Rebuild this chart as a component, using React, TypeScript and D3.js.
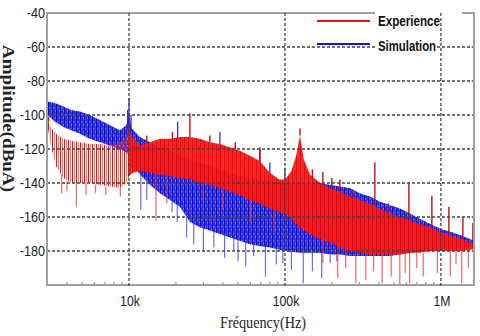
import React from 'react';
import * as d3 from 'd3';

// ---------- data ----------
const yTickValues = [-40, -60, -80, -100, -120, -140, -160, -180];
const xMajorValues = [10000, 100000, 1000000];
const xMajorLabels = ['10k', '100k', '1M'];
const xMinorValues = [4000, 5000, 6000, 7000, 8000, 9000, 20000, 30000, 40000, 50000, 60000, 70000, 80000, 90000,
  200000, 300000, 400000, 500000, 600000, 700000, 800000, 900000];

// Simulation (blue) envelope
const simFreq = [3000, 3350, 3800, 4250, 4850, 5600, 6500, 7550, 8750, 9600, 10000, 10400, 11760, 13630, 15790, 18300,
  21210, 24580, 28490, 33020, 38270, 44360, 51400, 59570, 69030, 80000, 100000, 124800, 144600, 167600, 194200,
  225000, 260800, 302200, 350600, 406300, 470900, 545700, 632400, 732800, 849200, 1000000, 1178000, 1365000, 1630000];
const simHigh = [-92, -93, -95, -97, -98, -100, -103, -106, -109, -106, -100, -108, -113, -116, -119, -121,
  -124, -126, -128, -130, -132, -134, -136, -137, -138, -139, -140, -140, -140, -140, -141,
  -142, -143, -146, -148, -151, -153, -155, -158, -161, -164, -167, -169, -171, -174];
const simLow = [-100, -104, -107, -109, -111, -114, -116, -118, -120, -122, -124, -128, -135, -141, -146, -150,
  -154, -163, -166, -168, -170, -172, -174, -176, -177, -178, -180, -181, -181, -181, -182,
  -182, -183, -183, -183, -183, -183, -182, -181, -180, -180, -179, -179, -178, -177];
// [freq, base, tip]
const simSpikes = [[10000, -104, -90], [9800, -108, -97], [10300, -110, -100], [20500, -128, -104], [28000, -135, -118],
  [38270, -140, -110], [45000, -142, -125], [69030, -150, -120], [80000, -152, -128], [100000, -156, -131],
  [115000, -160, -135], [55000, -146, -132], [16500, -125, -117]];
const simDips = [[11900, -134, -156], [13000, -138, -150], [18900, -150, -157], [20400, -152, -163], [23400, -160, -172],
  [26000, -164, -176], [30000, -166, -180], [35000, -168, -178], [41000, -170, -184], [47000, -172, -180],
  [50000, -173, -186], [56000, -175, -189], [63000, -176, -183], [75000, -177, -195], [88000, -178, -188],
  [97000, -179, -187], [110000, -180, -191], [131000, -181, -199], [150000, -181, -192], [172000, -181, -196],
  [195000, -182, -187], [215000, -182, -186]];

// Experience (red) envelope
const expFreq = [3000, 3150, 3400, 3800, 4250, 4850, 5600, 6500, 7550, 8750, 9600, 10000, 10500, 11760, 13630, 15790,
  18300, 21210, 24580, 28490, 33020, 38270, 44360, 51400, 59570, 69030, 80000, 92000, 100000, 110000, 118000, 124800,
  132000, 144600, 167600, 194200, 225000, 260800, 302200, 350600, 406300, 470900, 545700, 632400, 732800, 849200,
  1000000, 1178000, 1365000, 1630000];
const expHigh = [-103, -107, -111, -114, -115, -116, -117, -117, -118, -116, -112, -110, -113, -118, -116, -114,
  -114, -113, -113, -114, -116, -117, -119, -121, -124, -127, -134, -138, -138, -133, -124, -112,
  -126, -135, -140, -143, -145, -148, -150, -152, -155, -158, -160, -162, -164, -166,
  -169, -171, -173, -176];
const expLow = [-106, -118, -130, -137, -140, -140, -140, -141, -142, -143, -140, -136, -134, -133, -134, -135,
  -136, -137, -138, -140, -141, -143, -145, -147, -150, -152, -155, -157, -158, -161, -164, -166,
  -168, -170, -173, -175, -178, -180, -181, -182, -182, -182, -182, -181, -181, -180,
  -180, -180, -180, -179];
const expSparseUntil = 12500;
const expSpikes = [[24580, -113, -99], [69030, -127, -119], [124800, -112, -108], [175000, -141, -133.5],
  [200000, -143, -137], [225000, -145, -138], [377000, -153, -128], [623000, -162, -140], [875000, -166, -147.5],
  [1125000, -170, -154], [1383000, -173, -160], [1603000, -176, -163.5], [9900, -112, -106], [3050, -104, -101],
  [13000, -117, -112], [19000, -114, -110], [33000, -116, -112], [48000, -120, -116], [150000, -137, -132],
  [270000, -149, -144], [460000, -158, -152]];
const expDips = [[3700, -135, -146], [4000, -139, -145], [4600, -140, -154], [5300, -140, -147], [6100, -141, -146],
  [7100, -142, -147], [8800, -143, -148], [14900, -134, -162], [17500, -136, -152], [30000, -140, -150],
  [40000, -144, -156], [60000, -150, -163], [85000, -156, -169], [175000, -173, -187],
  [218000, -178, -196], [245000, -179, -190], [285000, -181, -199], [330000, -182, -197], [370000, -182, -192],
  [420000, -182, -199], [480000, -182, -195], [545000, -182, -200], [590000, -181, -193], [630000, -181, -199],
  [700000, -181, -190], [770000, -181, -195], [950000, -180, -193], [1150000, -180, -195], [1250000, -180, -188],
  [1360000, -180, -199], [1500000, -179, -190]];

const seriesNames = ['Experience', 'Simulation'];
const seriesColors = ['#ee1111', '#1515d0'];

export default function App() {
  const L = 47, R = 474, T = 13, B = 285;
  const x = d3.scaleLog().domain([2980, 1630000]).range([L, R]);
  const y = d3.scaleLinear().domain([-200, -40]).range([B, T]);

  type Row = { f: number; hi: number; lo: number };
  const area = d3.area<Row>().x(d => x(d.f)).y0(d => y(d.lo)).y1(d => y(d.hi));
  const simRows: Row[] = simFreq.map((f, i) => ({ f, hi: simHigh[i], lo: simLow[i] }));
  const expRows: Row[] = expFreq.map((f, i) => ({ f, hi: expHigh[i], lo: expLow[i] }));
  const expSparse = expRows.filter(r => r.f <= expSparseUntil);
  const expDense = expRows.filter(r => r.f >= 10000);

  const spikeLines = (arr: number[][], color: string, w: number, op: number, key: string) =>
    arr.map((s, i) => (
      <line key={key + i} x1={x(s[0])} x2={x(s[0])} y1={y(s[1])} y2={y(s[2])}
        stroke={color} strokeWidth={w} strokeOpacity={op} />
    ));

  const sans = 'Liberation Sans, Arial, sans-serif';
  const serif = 'Liberation Serif, Times New Roman, serif';

  return (
    <svg width={480} height={336} style={{ position: 'absolute', left: 0, top: 0, background: '#fff' }}>
      <defs>
        <clipPath id="plotClip"><rect x={L} y={T} width={R - L} height={B - T} /></clipPath>
        <pattern id="patBlue" width="4" height="7" patternUnits="userSpaceOnUse">
          <rect width="4" height="7" fill="#4848f2" />
          <rect x="0" width="1.3" height="7" fill="#0a0ac4" />
          <rect x="2.3" width="0.9" height="7" fill="#1818dd" />
          <rect x="1.4" y="2" width="0.8" height="1.5" fill="#9a9aff" />
          <rect x="3.2" y="5" width="0.8" height="1.5" fill="#9a9aff" />
        </pattern>
        <pattern id="patRed" width="4" height="7" patternUnits="userSpaceOnUse">
          <rect width="4" height="7" fill="#ff2424" />
          <rect x="0" width="1.2" height="7" fill="#e30000" />
          <rect x="2.4" width="0.8" height="7" fill="#ee0a0a" />
        </pattern>
        <pattern id="patRedSparse" width="4" height="7" patternUnits="userSpaceOnUse">
          <rect x="0" width="1.1" height="7" fill="#e81010" />
          <rect x="2.2" width="0.8" height="7" fill="#ee3030" fillOpacity={0.8} />
        </pattern>
      </defs>

      <g clipPath="url(#plotClip)">
        <path d={area(simRows) || ''} fill="url(#patBlue)" />
        {spikeLines(simSpikes, '#1a1ae0', 1.3, 0.9, 'ss')}
        {spikeLines(simDips, '#3a3aee', 1.2, 0.75, 'sd')}
        <path d={area(expSparse) || ''} fill="url(#patRedSparse)" />
        <path d={area(expDense) || ''} fill="url(#patRed)" fillOpacity={0.95} />
        {spikeLines(expDips, '#f03030', 1.2, 0.75, 'ed')}
        {spikeLines(expSpikes, '#c40000', 1.4, 0.95, 'es')}
      </g>

      {/* horizontal gridlines */}
      {yTickValues.filter(v => v !== -40).map(v => (
        <line key={'hg' + v} x1={L} x2={R} y1={y(v)} y2={y(v)} stroke="#444" strokeWidth={1.3} strokeDasharray="3 2" />
      ))}

      {/* frame */}
      <rect x={L} y={T} width={R - L} height={B - T} fill="none" stroke="#a0a0a0" strokeWidth={2} />
      {xMinorValues.map(v => (
        <line key={'mt' + v} x1={x(v)} x2={x(v)} y1={B} y2={B - 3} stroke="#888" strokeWidth={1} />
      ))}

      {/* legend */}
      <rect x={375} y={8} width={87} height={20} fill="#fff" />
      <rect x={375} y={38} width={62} height={16} fill="#fff" />
      <line x1={317} x2={370} y1={21} y2={21} stroke={seriesColors[0]} strokeWidth={2} />
      <line x1={317} x2={370} y1={44} y2={44} stroke={seriesColors[1]} strokeWidth={2} />
      <text x={378} y={26} fontFamily={sans} fontWeight="bold" fontSize={15} fill="#111"
        textLength={62} lengthAdjust="spacingAndGlyphs">{seriesNames[0]}</text>
      <text x={378} y={51} fontFamily={sans} fontWeight="bold" fontSize={15} fill="#111"
        textLength={58} lengthAdjust="spacingAndGlyphs">{seriesNames[1]}</text>

      {/* vertical gridlines */}
      {xMajorValues.map(v => (
        <line key={'vg' + v} x1={x(v)} x2={x(v)} y1={T} y2={B + 2} stroke="#444" strokeWidth={1.3} strokeDasharray="3 2" />
      ))}

      {/* y tick labels */}
      {yTickValues.map(v => (
        <g key={'yl' + v} transform={`translate(45,${y(v)}) scale(0.9,1)`}>
          <text x={0} y={0} dy="0.36em" textAnchor="end" fontFamily={sans} fontSize={14} fill="#222">{v}</text>
        </g>
      ))}
      {/* x tick labels */}
      {xMajorValues.map((v, i) => (
        <g key={'xl' + v} transform={`translate(${x(v) + 1},306) scale(0.82,1)`}>
          <text x={0} y={0} textAnchor="middle" fontFamily={sans} fontSize={15} fill="#222">{xMajorLabels[i]}</text>
        </g>
      ))}

      {/* axis titles */}
      <text transform="translate(3,45) rotate(90)" fontFamily={serif} fontWeight="bold" fontSize={17} fill="#222"
        textLength={147} lengthAdjust="spacingAndGlyphs">Amplitude(dBuA)</text>
      <text x={220} y={328} fontFamily={serif} fontSize={16} fill="#222"
        textLength={86} lengthAdjust="spacingAndGlyphs">Fréquency(Hz)</text>
    </svg>
  );
}
